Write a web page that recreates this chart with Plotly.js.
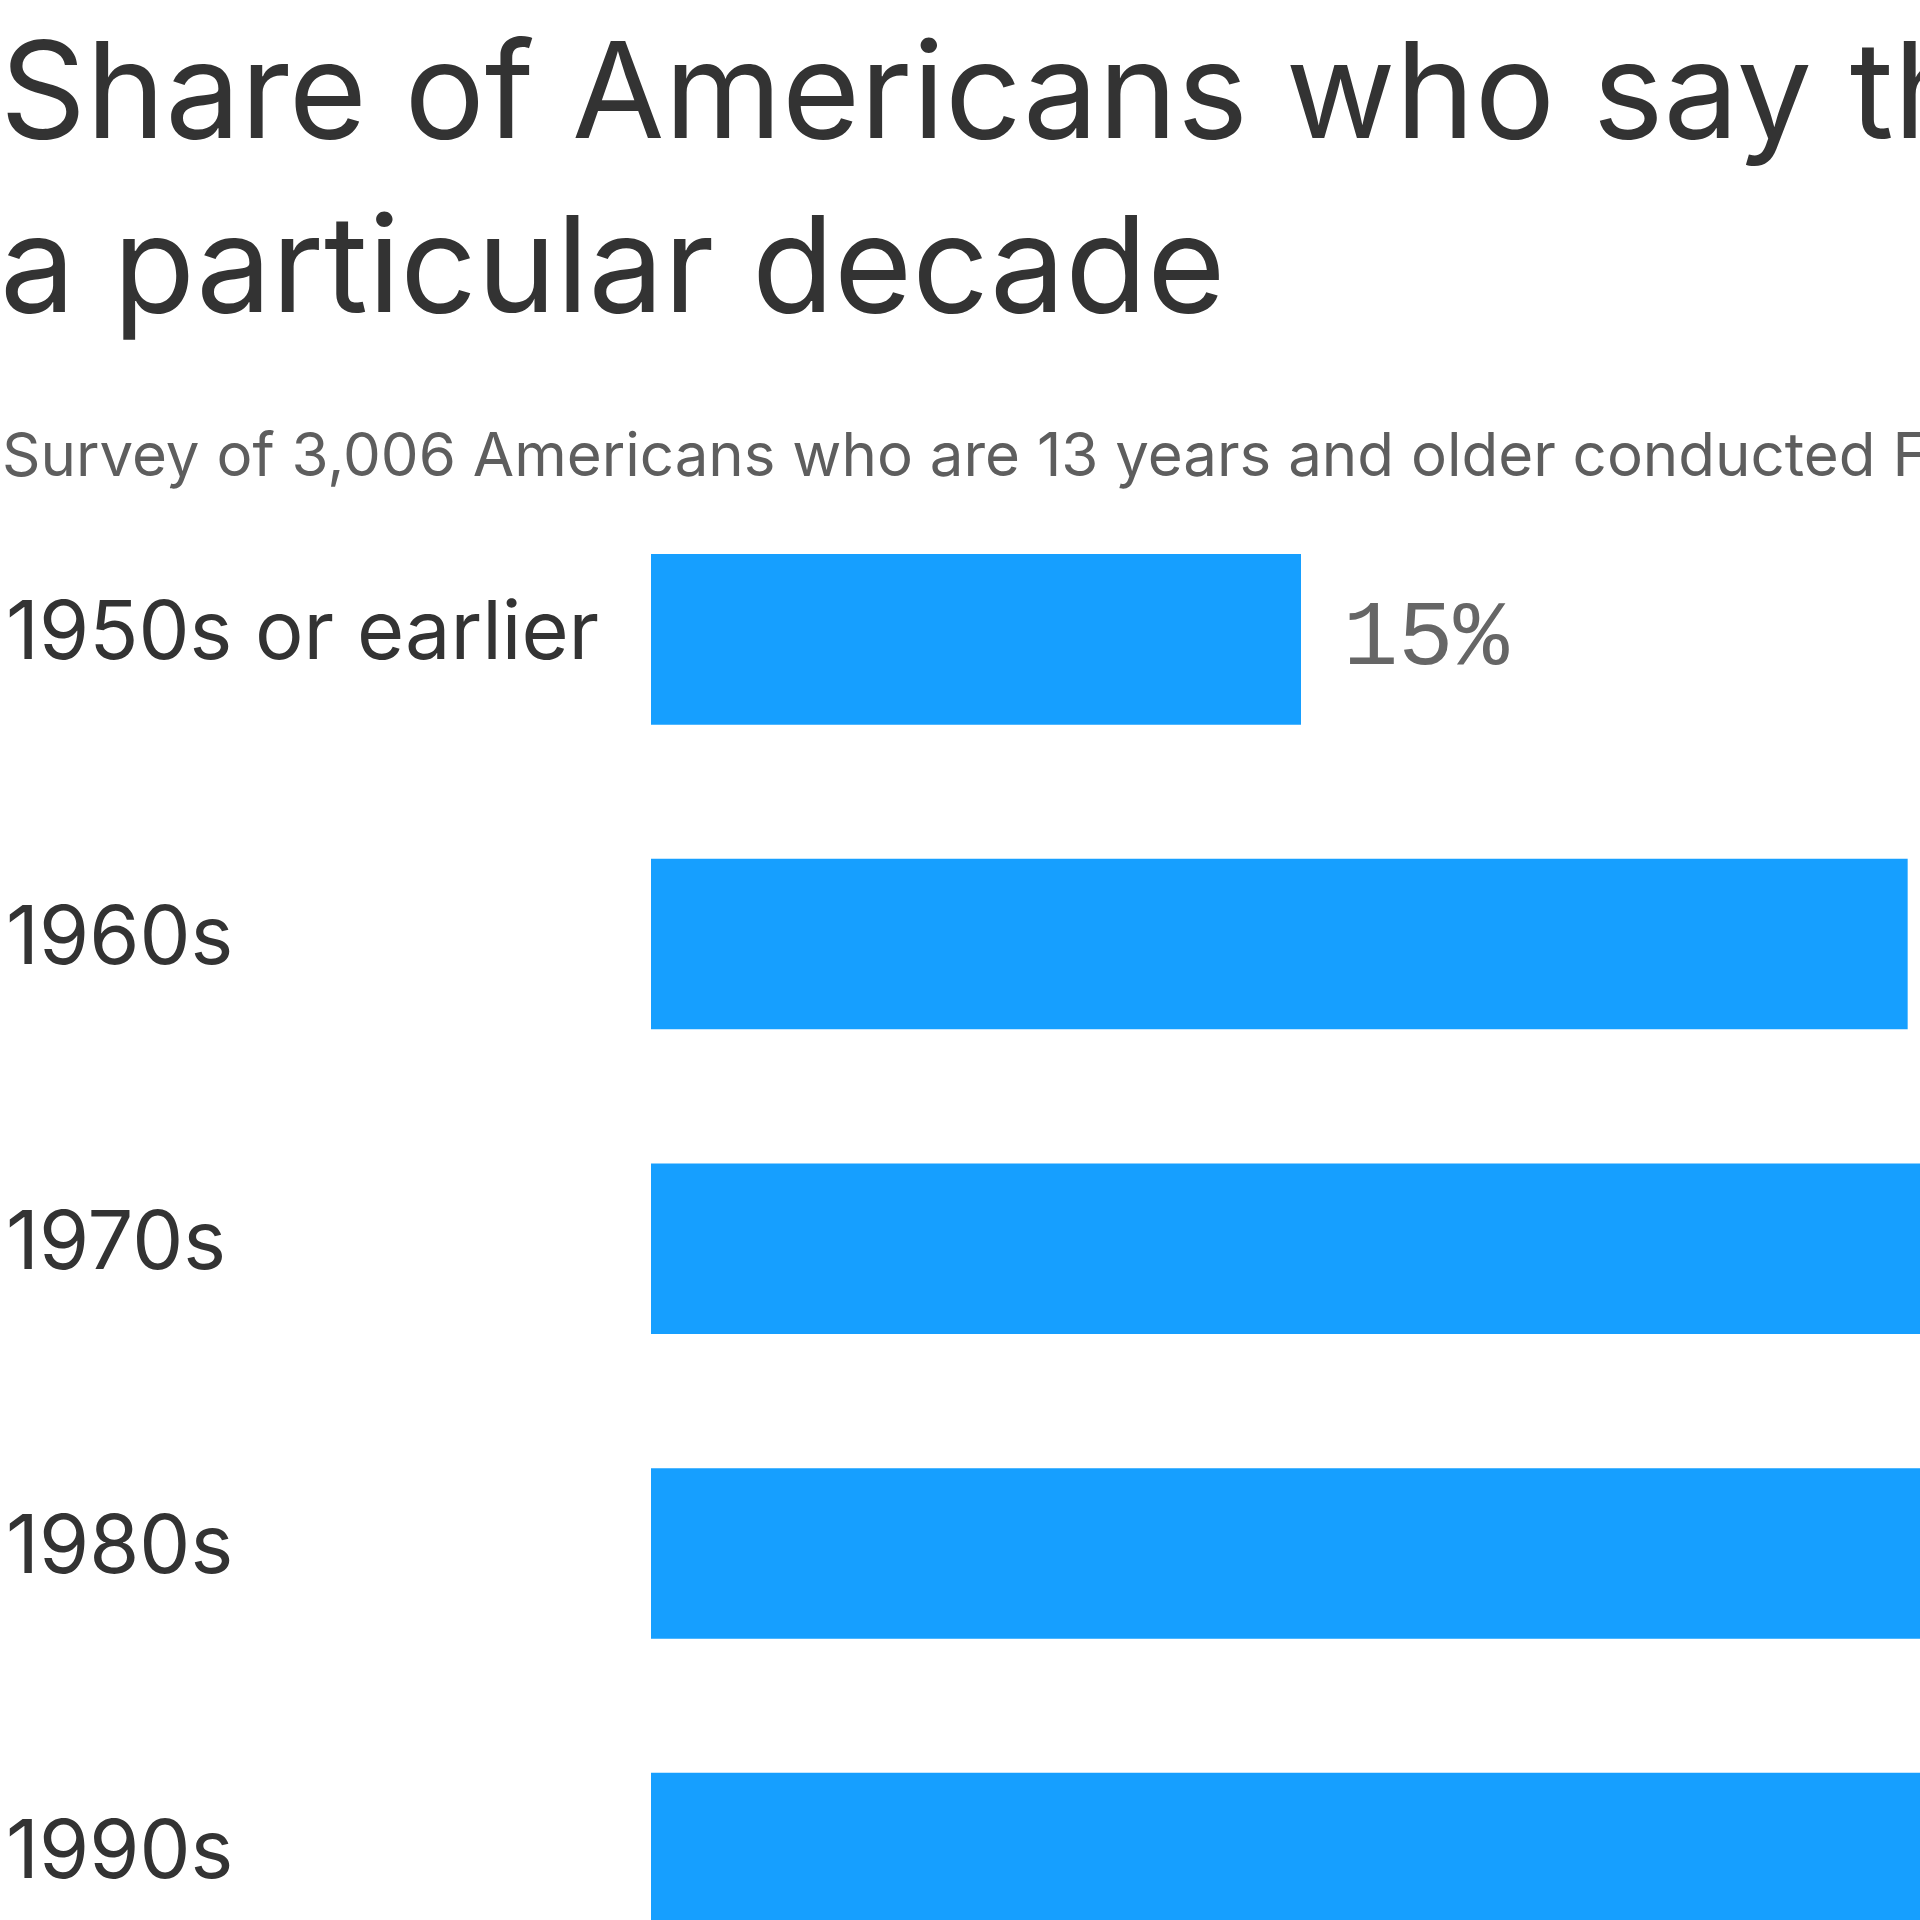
<!DOCTYPE html>
<html>
<head>
<meta charset="utf-8">
<script src="https://cdn.plot.ly/plotly-3.0.1.min.js"></script>
<style>
  html, body { margin: 0; padding: 0; background: #ffffff; overflow: hidden; }
  #chart { width: 1920px; height: 1920px; }
</style>
</head>
<body>
<div id="chart"></div>
<script>
// ---- data ----
const categories = ["1950s or earlier", "1960s", "1970s", "1980s", "1990s"];
const shares = [15, 29, 31, 33, 30];          // percent (values past the visible edge are estimates)
const valueLabels = ["15%", "29%", "31%", "33%", "30%"];
const titleText = "Share of Americans who say they would most like to live in<br>a particular decade";
const subtitleText = "Survey of 3,006 Americans who are 13 years and older conducted Feb. 2023";

// ---- layout geometry ----
const W = 1920, H = 1920;
const mL = 651, mR = 0, mT = 487, mB = 0;
const plotW = W - mL - mR, plotH = H - mT - mB;
const pxPerPct = 650 / 15;
const xMax = plotW / pxPerPct;
const pitch = 304.7;
const yBottom = -0.5 + plotH / pitch;

const barColor = "#169fff";

const trace = {
  type: "bar",
  orientation: "h",
  x: shares,
  y: categories,
  marker: { color: barColor, line: { width: 0 } },
  hoverinfo: "skip",
  cliponaxis: true
};

const annotations = [];
// category labels, left aligned at page edge
categories.forEach((c, i) => {
  annotations.push({
    xref: "paper", yref: "y",
    x: (4 - mL) / plotW, y: c,
    xanchor: "left", yanchor: "middle",
    text: c, showarrow: false,
    yshift: 9,
    font: { family: "Inter, sans-serif", size: 81, color: "#333333" }
  });
});
// value labels right of bars
categories.forEach((c, i) => {
  annotations.push({
    xref: "x", yref: "y",
    x: shares[i], y: c,
    xanchor: "left", yanchor: "middle",
    xshift: 40,
    text: valueLabels[i], showarrow: false,
    font: { family: "Liberation Mono, monospace", size: 92, color: "#666666" }
  });
});
// subtitle
annotations.push({
  xref: "paper", yref: "paper",
  x: (0 - mL) / plotW, y: (H - 415.5) / plotH,
  xanchor: "left", yanchor: "top",
  text: subtitleText, showarrow: false,
  font: { family: "Inter, sans-serif", size: 60, color: "#5e5e5e" }
});

const layout = {
  width: W, height: H,
  paper_bgcolor: "#ffffff", plot_bgcolor: "#ffffff",
  margin: { l: mL, r: mR, t: mT, b: mB, pad: 0 },
  title: {
    text: titleText,
    x: 0, xref: "container", xanchor: "left",
    y: 1 - 138 / H, yref: "container", yanchor: "top",
    font: { family: "Inter, sans-serif", size: 134, color: "#333333" }
  },
  showlegend: false,
  bargap: 0.44,
  xaxis: {
    range: [0, xMax], showgrid: false, zeroline: false,
    showticklabels: false, ticks: "", showline: false, fixedrange: true
  },
  yaxis: {
    range: [yBottom, -0.5], type: "category",
    showgrid: false, zeroline: false, showticklabels: false,
    ticks: "", showline: false, fixedrange: true
  },
  annotations: annotations
};

Plotly.newPlot("chart", [trace], layout, { displayModeBar: false, staticPlot: true });
</script>
</body>
</html>
